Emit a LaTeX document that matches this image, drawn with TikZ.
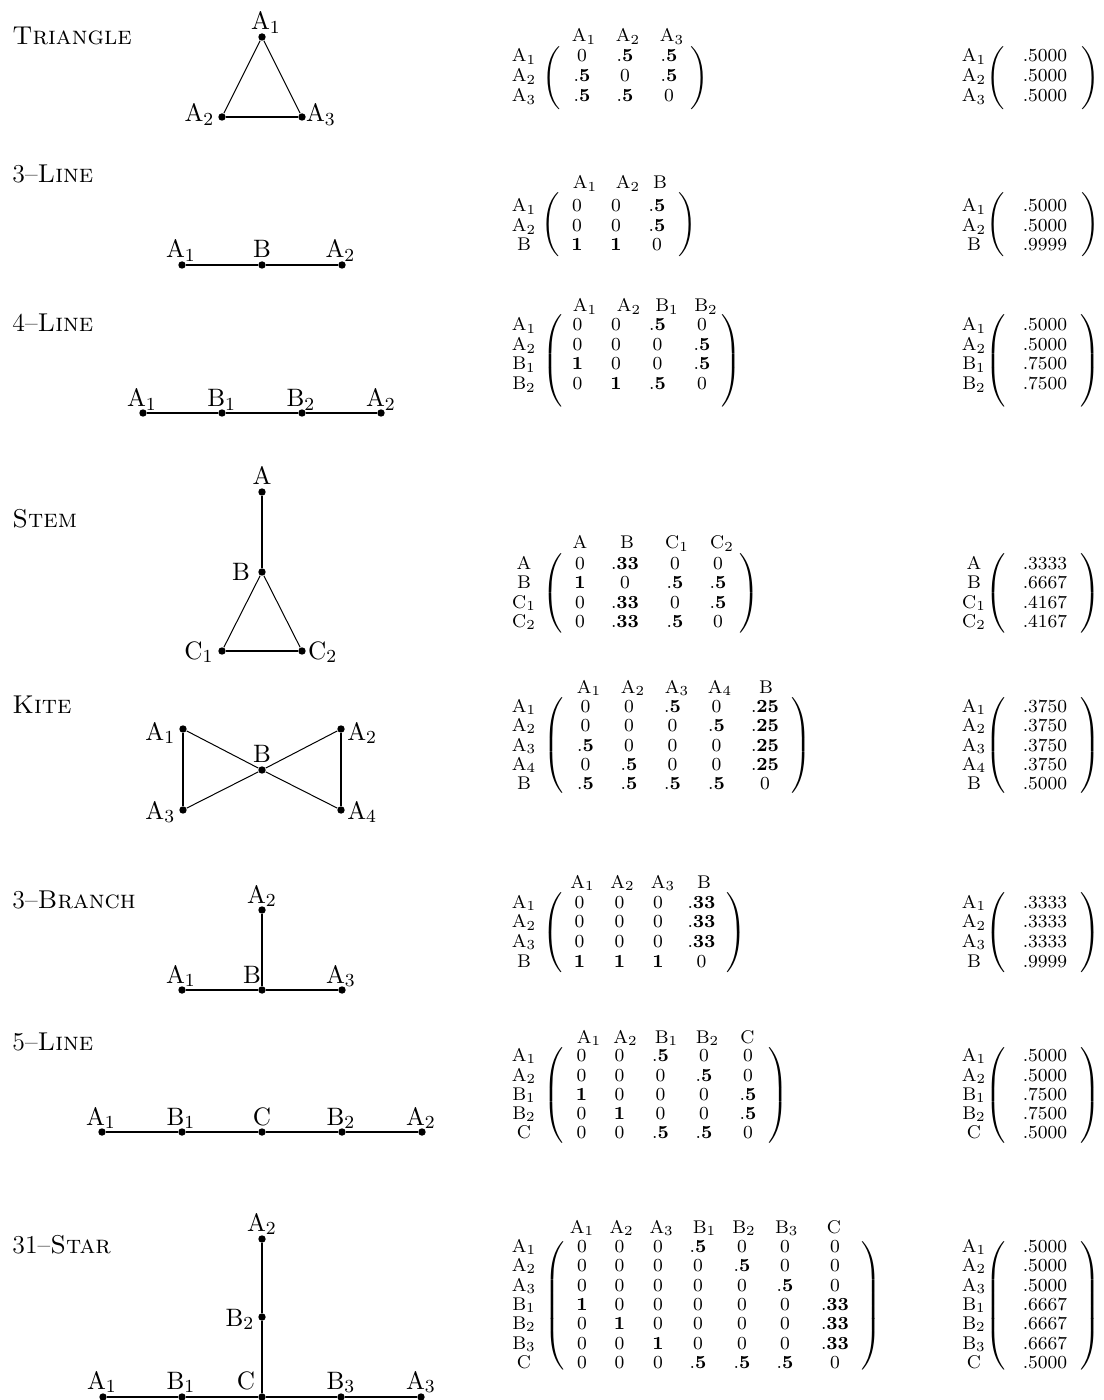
\documentclass[tikz,border=0pt]{standalone}
\usepackage{graphicx}
\newlength\pxu
\setlength\pxu{0.4348pt}
\newcommand\bx[1]{\mathbf{#1}}
\newcommand\Lp[1]{\resizebox*{\width}{#1\pxu}{$\delimiterfactor=1000 \delimitershortfall=0pt \left(\vcenter{\hbox{\rule{0pt}{#1\pxu}}}\right.$}}
\newcommand\Rp[1]{\resizebox*{\width}{#1\pxu}{$\delimiterfactor=1000 \delimitershortfall=0pt \left.\vcenter{\hbox{\rule{0pt}{#1\pxu}}}\right)$}}
\newcommand\mrow[6]{%
  \node[ent] (#1-l#2) at (524,#3) {$#4$};
  \node[ent] (#1-vl#2) at (974,#3) {$#4$};
  \node[ent] (#1-v#2) at (1045,#3) {$#5$};
  \foreach \ee [count=\ci from 0] in {#6}{%
    \pgfmathsetmacro\xx{\curcols[\ci]}%
    \node[ent] (#1-#2-\ci) at (\xx,#3) {$\ee$};}%
}
\newcommand\mhead[3]{\foreach \hx/\hlab [count=\ci] in {#3}{\node[ent] (#1-h\ci) at (\hx,#2) {$\hlab$};}}
\newcommand\mpar[5]{%
  \pgfmathsetmacro\hh{#5-#4}\pgfmathsetmacro\yc{(#4+#5)/2}%
  \node[par] (#1-pl) at (#2,\yc) {\Lp{\hh}};
  \node[par] (#1-pr) at (#3,\yc) {\Rp{\hh}};
  \node[par] (#1-ql) at (997,\yc) {\Lp{\hh}};
  \node[par] (#1-qr) at (1089,\yc) {\Rp{\hh}};
}
\begin{document}
\begin{tikzpicture}[x={(0.4348pt,0pt)}, y={(0pt,-0.4348pt)},
  vtx/.style={circle, fill=black, inner sep=0pt, minimum size=7.4\pxu},
  thk/.style={line width=2.1\pxu},
  thn/.style={line width=1.0\pxu},
  lbl/.style={anchor=base, inner sep=0pt, font=\fontsize{11.2}{13}\selectfont},
  ent/.style={anchor=base, inner sep=0pt, font=\footnotesize},
  ttl/.style={anchor=base west, inner sep=0pt, font=\fontsize{11.2}{13}\selectfont},
  par/.style={inner sep=0pt, outer sep=0pt, font=\normalsize}]
\fill[white] (0,0) rectangle (1103,1400);
\useasboundingbox (0,0) rectangle (1103,1400);

% ---------- titles ----------
\node[ttl] (n1) at (12,45) {\textsc{Triangle}};
\node[ttl] (n2) at (12,183) {3\textendash\textsc{Line}};
\node[ttl] (n3) at (12,332) {4\textendash\textsc{Line}};
\node[ttl] (n4) at (12,528) {\textsc{Stem}};
\node[ttl] (n5) at (12,713) {\textsc{Kite}};
\node[ttl] (n6) at (12,908) {3\textendash\textsc{Branch}};
\node[ttl] (n7) at (12,1050) {5\textendash\textsc{Line}};
\node[ttl] (n8) at (12,1253) {31\textendash\textsc{Star}};

% ---------- Triangle ----------
\node[vtx] (t1) at (262,37) {};
\node[vtx] (t2) at (222,117) {};
\node[vtx] (t3) at (302,117) {};
\draw[thn] (t1) -- (t2);
\draw[thn] (t1) -- (t3);
\draw[thk] (t2) -- (t3);
\node[lbl] (t1l) at (266,30) {$\mathrm{A}_1$};
\node[lbl] (t2l) at (199.5,122) {$\mathrm{A}_2$};
\node[lbl] (t3l) at (321,122) {$\mathrm{A}_3$};

% ---------- 3-Line ----------
\node[vtx] (a1) at (182,265) {};
\node[vtx] (ab) at (262,265) {};
\node[vtx] (a2) at (342,265) {};
\draw[thk] (a1) -- (ab) -- (a2);
\node[lbl] (a1l) at (181,258) {$\mathrm{A}_1$};
\node[lbl] (abl) at (262,258) {$\mathrm{B}$};
\node[lbl] (a2l) at (340.5,258) {$\mathrm{A}_2$};

% ---------- 4-Line ----------
\node[vtx] (b1) at (143,413) {};
\node[vtx] (b2) at (222,413) {};
\node[vtx] (b3) at (302,413) {};
\node[vtx] (b4) at (381,413) {};
\draw[thk] (b1) -- (b2) -- (b3) -- (b4);
\node[lbl] (b1l) at (142,406.5) {$\mathrm{A}_1$};
\node[lbl] (b2l) at (221.7,406.5) {$\mathrm{B}_1$};
\node[lbl] (b3l) at (301,406.5) {$\mathrm{B}_2$};
\node[lbl] (b4l) at (381,406.5) {$\mathrm{A}_2$};

% ---------- Stem ----------
\node[vtx] (sa) at (262,492) {};
\node[vtx] (sb) at (262,572) {};
\node[vtx] (sc1) at (222,651) {};
\node[vtx] (sc2) at (302,651) {};
\draw[thk] (sa) -- (sb);
\draw[thn] (sb) -- (sc1);
\draw[thn] (sb) -- (sc2);
\draw[thk] (sc1) -- (sc2);
\node[lbl] (sal) at (262,485) {$\mathrm{A}$};
\node[lbl] (sbl) at (241,580) {$\mathrm{B}$};
\node[lbl] (sc1l) at (199,659) {$\mathrm{C}_1$};
\node[lbl] (sc2l) at (322.7,659) {$\mathrm{C}_2$};

% ---------- Kite ----------
\node[vtx] (k1) at (183,729) {};
\node[vtx] (k2) at (341,729) {};
\node[vtx] (kb) at (262,770) {};
\node[vtx] (k3) at (183,810) {};
\node[vtx] (k4) at (341,810) {};
\draw[thk] (k1) -- (k3);
\draw[thk] (k2) -- (k4);
\draw[thn] (k1) -- (kb) -- (k4);
\draw[thn] (k2) -- (kb) -- (k3);
\node[lbl] (k1l) at (160.3,740) {$\mathrm{A}_1$};
\node[lbl] (k2l) at (362.2,740) {$\mathrm{A}_2$};
\node[lbl] (kbl) at (262,762) {$\mathrm{B}$};
\node[lbl] (k3l) at (160.3,819) {$\mathrm{A}_3$};
\node[lbl] (k4l) at (362.2,819) {$\mathrm{A}_4$};

% ---------- 3-Branch ----------
\node[vtx] (r2) at (262,910) {};
\node[vtx] (r1) at (182,990) {};
\node[vtx] (rb) at (262,990) {};
\node[vtx] (r3) at (342,990) {};
\draw[thk] (r2) -- (rb);
\draw[thk] (r1) -- (rb) -- (r3);
\node[lbl] (r2l) at (262,903) {$\mathrm{A}_2$};
\node[lbl] (r1l) at (181,983) {$\mathrm{A}_1$};
\node[lbl] (rbl) at (252,983) {$\mathrm{B}$};
\node[lbl] (r3l) at (341,983) {$\mathrm{A}_3$};

% ---------- 5-Line ----------
\node[vtx] (f1) at (102,1132) {};
\node[vtx] (f2) at (182,1132) {};
\node[vtx] (f3) at (262,1132) {};
\node[vtx] (f4) at (342,1132) {};
\node[vtx] (f5) at (422,1132) {};
\draw[thk] (f1) -- (f2) -- (f3) -- (f4) -- (f5);
\node[lbl] (f1l) at (101,1125) {$\mathrm{A}_1$};
\node[lbl] (f2l) at (181,1125) {$\mathrm{B}_1$};
\node[lbl] (f3l) at (262,1125) {$\mathrm{C}$};
\node[lbl] (f4l) at (341,1125) {$\mathrm{B}_2$};
\node[lbl] (f5l) at (421,1125) {$\mathrm{A}_2$};

% ---------- 31-Star ----------
\node[vtx] (s2) at (262,1239) {};
\node[vtx] (sB2) at (262,1317) {};
\node[vtx] (s1) at (103,1397) {};
\node[vtx] (sB1) at (182,1397) {};
\node[vtx] (sC) at (262,1397) {};
\node[vtx] (sB3) at (341,1397) {};
\node[vtx] (s3) at (421,1397) {};
\draw[thk] (s2) -- (sB2) -- (sC);
\draw[thk] (s1) -- (sB1) -- (sC) -- (sB3) -- (s3);
\node[lbl] (s2l) at (262,1231) {$\mathrm{A}_2$};
\node[lbl] (sB2l) at (240,1326) {$\mathrm{B}_2$};
\node[lbl] (s1l) at (102,1389) {$\mathrm{A}_1$};
\node[lbl] (sB1l) at (181,1389) {$\mathrm{B}_1$};
\node[lbl] (sCl) at (246,1389) {$\mathrm{C}$};
\node[lbl] (sB3l) at (341,1389) {$\mathrm{B}_3$};
\node[lbl] (s3l) at (421,1389) {$\mathrm{A}_3$};

% ---------- Matrix 1 ----------
\def\curcols{{582,625,669}}
\mhead{m1}{42}{584/\mathrm{A}_1,628/\mathrm{A}_2,672/\mathrm{A}_3}
\mrow{m1}{1}{62}{\mathrm{A}_1}{.5000}{0,\bx{.5},\bx{.5}}
\mrow{m1}{2}{82}{\mathrm{A}_2}{.5000}{\bx{.5},0,\bx{.5}}
\mrow{m1}{3}{102}{\mathrm{A}_3}{.5000}{\bx{.5},\bx{.5},0}
\mpar{m1}{553}{698}{47}{110}

% ---------- Matrix 2 ----------
\def\curcols{{577,616,657}}
\mhead{m2}{189}{585/\mathrm{A}_1,628/\mathrm{A}_2,660/\mathrm{B}}
\mrow{m2}{1}{212}{\mathrm{A}_1}{.5000}{0,0,\bx{.5}}
\mrow{m2}{2}{231.5}{\mathrm{A}_2}{.5000}{0,0,\bx{.5}}
\mrow{m2}{3}{251}{\mathrm{B}}{.9999}{\bx{1},\bx{1},0}
\mpar{m2}{552}{686.5}{193}{257}

% ---------- Matrix 3 ----------
\def\curcols{{577.5,616,657.5,702}}
\mhead{m3}{312}{585/\mathrm{A}_1,629/\mathrm{A}_2,667/\mathrm{B}_1,706/\mathrm{B}_2}
\mrow{m3}{1}{331}{\mathrm{A}_1}{.5000}{0,0,\bx{.5},0}
\mrow{m3}{2}{350.5}{\mathrm{A}_2}{.5000}{0,0,0,\bx{.5}}
\mrow{m3}{3}{370}{\mathrm{B}_1}{.7500}{\bx{1},0,0,\bx{.5}}
\mrow{m3}{4}{389.5}{\mathrm{B}_2}{.7500}{0,\bx{1},\bx{.5},0}
\mpar{m3}{554}{730}{315}{407}

% ---------- Matrix 4 ----------
\def\curcols{{580,625,675,718}}
\mhead{m4}{549}{580/\mathrm{A},627/\mathrm{B},677/\mathrm{C}_1,722/\mathrm{C}_2}
\mrow{m4}{1}{569}{\mathrm{A}}{.3333}{0,\bx{.33},0,0}
\mrow{m4}{2}{588.5}{\mathrm{B}}{.6667}{\bx{1},0,\bx{.5},\bx{.5}}
\mrow{m4}{3}{608}{\mathrm{C}_1}{.4167}{0,\bx{.33},0,\bx{.5}}
\mrow{m4}{4}{627}{\mathrm{C}_2}{.4167}{0,\bx{.33},\bx{.5},0}
\mpar{m4}{554}{748.5}{554}{633}

% ---------- Matrix 5 ----------
\def\curcols{{585.5,629,672.5,716.5,765}}
\mhead{m5}{693}{589/\mathrm{A}_1,633/\mathrm{A}_2,677/\mathrm{A}_3,720/\mathrm{A}_4,766/\mathrm{B}}
\mrow{m5}{1}{712}{\mathrm{A}_1}{.3750}{0,0,\bx{.5},0,\bx{.25}}
\mrow{m5}{2}{731}{\mathrm{A}_2}{.3750}{0,0,0,\bx{.5},\bx{.25}}
\mrow{m5}{3}{751}{\mathrm{A}_3}{.3750}{\bx{.5},0,0,0,\bx{.25}}
\mrow{m5}{4}{770}{\mathrm{A}_4}{.3750}{0,\bx{.5},0,0,\bx{.25}}
\mrow{m5}{5}{789}{\mathrm{B}}{.5000}{\bx{.5},\bx{.5},\bx{.5},\bx{.5},0}
\mpar{m5}{555}{800}{698}{793}

% ---------- Matrix 6 ----------
\def\curcols{{579.5,619.5,658,701.5}}
\mhead{m6}{888}{582.5/\mathrm{A}_1,622.5/\mathrm{A}_2,663/\mathrm{A}_3,704/\mathrm{B}}
\mrow{m6}{1}{908}{\mathrm{A}_1}{.3333}{0,0,0,\bx{.33}}
\mrow{m6}{2}{927.5}{\mathrm{A}_2}{.3333}{0,0,0,\bx{.33}}
\mrow{m6}{3}{947}{\mathrm{A}_3}{.3333}{0,0,0,\bx{.33}}
\mrow{m6}{4}{967}{\mathrm{B}}{.9999}{\bx{1},\bx{1},\bx{1},0}
\mpar{m6}{553.5}{735.5}{893}{973}

% ---------- Matrix 7 ----------
\def\curcols{{581.5,619.5,660.5,704,748}}
\mhead{m7}{1043}{589/\mathrm{A}_1,625.5/\mathrm{A}_2,666.5/\mathrm{B}_1,707.5/\mathrm{B}_2,747.5/\mathrm{C}}
\mrow{m7}{1}{1061}{\mathrm{A}_1}{.5000}{0,0,\bx{.5},0,0}
\mrow{m7}{2}{1081}{\mathrm{A}_2}{.5000}{0,0,0,\bx{.5},0}
\mrow{m7}{3}{1100}{\mathrm{B}_1}{.7500}{\bx{1},0,0,0,\bx{.5}}
\mrow{m7}{4}{1119}{\mathrm{B}_2}{.7500}{0,\bx{1},0,0,\bx{.5}}
\mrow{m7}{5}{1138}{\mathrm{C}}{.5000}{0,0,\bx{.5},\bx{.5},0}
\mpar{m7}{555}{777}{1048}{1143}

% ---------- Matrix 8 ----------
\def\curcols{{582,619.5,658,698,742,785,835}}
\mhead{m8}{1233}{582/\mathrm{A}_1,621.7/\mathrm{A}_2,661.7/\mathrm{A}_3,704.5/\mathrm{B}_1,744/\mathrm{B}_2,786.7/\mathrm{B}_3,834/\mathrm{C}}
\mrow{m8}{1}{1252}{\mathrm{A}_1}{.5000}{0,0,0,\bx{.5},0,0,0}
\mrow{m8}{2}{1271}{\mathrm{A}_2}{.5000}{0,0,0,0,\bx{.5},0,0}
\mrow{m8}{3}{1291}{\mathrm{A}_3}{.5000}{0,0,0,0,0,\bx{.5},0}
\mrow{m8}{4}{1310}{\mathrm{B}_1}{.6667}{\bx{1},0,0,0,0,0,\bx{.33}}
\mrow{m8}{5}{1329}{\mathrm{B}_2}{.6667}{0,\bx{1},0,0,0,0,\bx{.33}}
\mrow{m8}{6}{1349}{\mathrm{B}_3}{.6667}{0,0,\bx{1},0,0,0,\bx{.33}}
\mrow{m8}{7}{1368}{\mathrm{C}}{.5000}{0,0,0,\bx{.5},\bx{.5},\bx{.5},0}
\mpar{m8}{555.5}{870.5}{1242}{1370}
\end{tikzpicture}
\end{document}
